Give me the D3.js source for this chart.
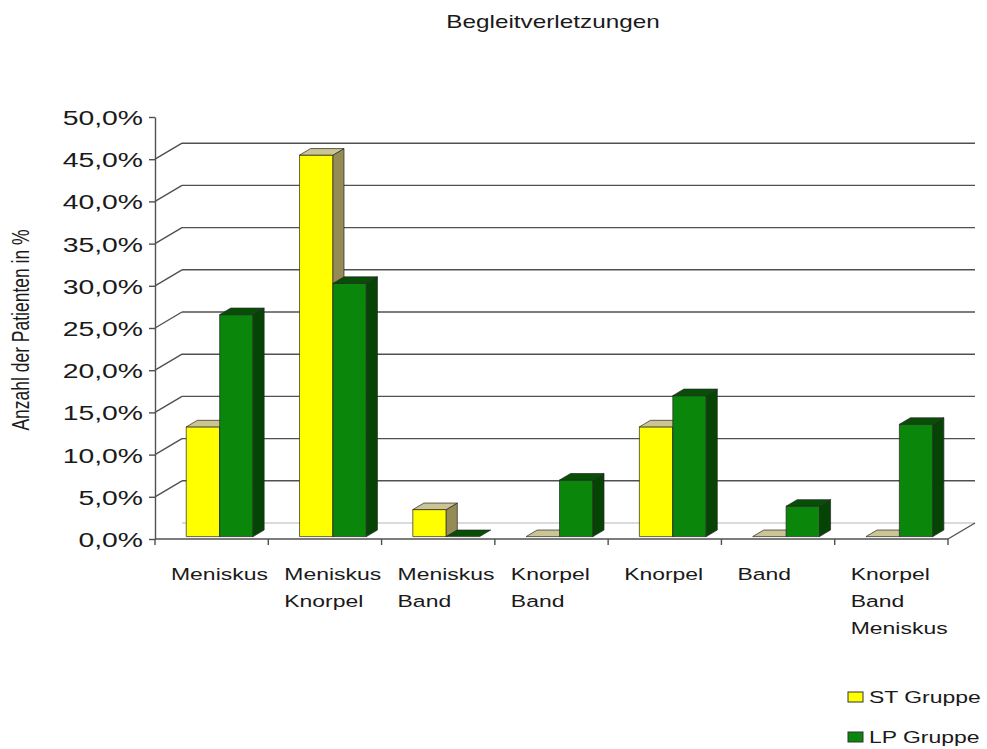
<!DOCTYPE html>
<html>
<head>
<meta charset="utf-8">
<script src="https://cdn.jsdelivr.net/npm/d3@7"></script>
<style>
  html, body { margin: 0; padding: 0; background: #fff; }
  #chart { width: 987px; height: 749px; }
</style>
</head>
<body>
<div id="chart"></div>
<script>
const categories = [
  ["Meniskus"],
  ["Meniskus", "Knorpel"],
  ["Meniskus", "Band"],
  ["Knorpel", "Band"],
  ["Knorpel"],
  ["Band"],
  ["Knorpel", "Band", "Meniskus"]
];
const seriesNames = ["ST Gruppe", "LP Gruppe"];
const stValues = [13.0, 45.2, 3.2, 0, 13.0, 0, 0];
const lpValues = [26.3, 30.0, 0, 6.7, 16.7, 3.6, 13.3];
const yTicks = [0, 5, 10, 15, 20, 25, 30, 35, 40, 45, 50];
const titleText = "Begleitverletzungen";
const yTitleText = "Anzahl der Patienten in %";

window.addEventListener("load", () => {
  const width = 987;
  const height = 749;
  const sx = 1.35; // the source picture is stretched horizontally
  const fontFamily = "'Liberation Sans', Arial, sans-serif";
  const textColor = "#1a1a1a";
  const gridColor = "#505050";

  const plot = { left: 155, right: 948, top: 117, bottom: 539 };
  const depthX = 27;
  const depthY = -16;
  const barT0 = 0.15;
  const barT1 = 0.56;

  const colors = {
    "ST Gruppe": { front: "#ffff00", top: "#cbc493", side: "#958b55" },
    "LP Gruppe": { front: "#0a860a", top: "#074f07", side: "#054405" }
  };

  const svg = d3
    .select("#chart")
    .append("svg")
    .attr("width", width)
    .attr("height", height)
    .style("font-family", fontFamily);

  const yScale = d3.scaleLinear().domain([0, 50]).range([plot.bottom, plot.top]);
  const xBand = d3
    .scaleBand()
    .domain(d3.range(categories.length))
    .range([plot.left, plot.right]);
  const bw = xBand.bandwidth();
  const xInner = d3
    .scaleBand()
    .domain(seriesNames)
    .range([bw * 0.24, bw * 0.83]);

  const de = d3.formatLocale({
    decimal: ",",
    thousands: ".",
    grouping: [3],
    currency: ["", " €"]
  });
  const pct = de.format(".1f");

  function stretchedText(parent, x, y, str, size, anchor) {
    return parent
      .append("text")
      .attr("transform", `translate(${x},${y}) scale(${sx},1)`)
      .attr("text-anchor", anchor || "start")
      .attr("font-size", size + "px")
      .attr("fill", textColor)
      .text(str);
  }

  // title
  stretchedText(svg, 553, 28, titleText, 18, "middle");

  // y axis title
  svg
    .append("text")
    .attr("transform", `translate(29,330) rotate(-90) scale(1,${sx})`)
    .attr("text-anchor", "middle")
    .attr("font-size", "17.5px")
    .attr("fill", textColor)
    .text(yTitleText);

  // walls: back gridlines and left side diagonals
  const grid = svg.append("g");
  yTicks
    .filter((t) => t > 0 && t < 50)
    .forEach((t) => {
      const y = yScale(t);
      grid
        .append("line")
        .attr("x1", plot.left)
        .attr("y1", y)
        .attr("x2", plot.left + depthX)
        .attr("y2", y + depthY)
        .attr("stroke", gridColor)
        .attr("stroke-width", 1.4);
      grid
        .append("line")
        .attr("x1", plot.left + depthX)
        .attr("y1", y + depthY)
        .attr("x2", plot.right + depthX)
        .attr("y2", y + depthY)
        .attr("stroke", gridColor)
        .attr("stroke-width", 1.4);
    });

  // floor back edge (faint) and right floor edge
  grid
    .append("line")
    .attr("x1", plot.left + depthX)
    .attr("y1", yScale(0) + depthY)
    .attr("x2", plot.right + depthX)
    .attr("y2", yScale(0) + depthY)
    .attr("stroke", "#b5b5b5")
    .attr("stroke-width", 1);
  grid
    .append("line")
    .attr("x1", plot.right)
    .attr("y1", yScale(0))
    .attr("x2", plot.right + depthX)
    .attr("y2", yScale(0) + depthY)
    .attr("stroke", gridColor)
    .attr("stroke-width", 1.4);

  // bars
  const seriesData = [
    { name: "ST Gruppe", values: stValues },
    { name: "LP Gruppe", values: lpValues }
  ];
  const ox = depthX * barT0;
  const oy = depthY * barT0;
  const dx = depthX * (barT1 - barT0);
  const dy = depthY * (barT1 - barT0);
  const bars = svg.append("g").attr("stroke", "#262626").attr("stroke-width", 0.7).attr("stroke-linejoin", "round");

  categories.forEach((cat, i) => {
    seriesData.forEach((s) => {
      const v = s.values[i];
      const c = colors[s.name];
      const x0 = xBand(i) + xInner(s.name) + ox;
      const w = xInner.bandwidth();
      const yTop = yScale(v) + oy;
      const yBot = yScale(0) + oy;
      if (v > 0) {
        bars
          .append("rect")
          .attr("x", x0)
          .attr("y", yTop)
          .attr("width", w)
          .attr("height", yBot - yTop)
          .attr("fill", c.front);
        bars
          .append("polygon")
          .attr("points", [
            [x0 + w, yTop],
            [x0 + w, yBot],
            [x0 + w + dx, yBot + dy],
            [x0 + w + dx, yTop + dy]
          ].join(" "))
          .attr("fill", c.side);
      }
      bars
        .append("polygon")
        .attr("points", [
          [x0, yTop],
          [x0 + w, yTop],
          [x0 + w + dx, yTop + dy],
          [x0 + dx, yTop + dy]
        ].join(" "))
        .attr("fill", c.top);
    });
  });

  // y axis
  const yAxis = d3
    .axisLeft(yScale)
    .tickValues(yTicks)
    .tickSize(6)
    .tickSizeOuter(0)
    .tickFormat((d) => pct(d) + "%");
  const yAxisG = svg
    .append("g")
    .attr("transform", `translate(${plot.left},0)`)
    .call(yAxis);
  yAxisG.select(".domain").attr("stroke", gridColor).attr("stroke-width", 1.4);
  yAxisG.selectAll(".tick line").attr("stroke", gridColor).attr("stroke-width", 1.4);
  yAxisG
    .selectAll(".tick text")
    .attr("x", -12 / sx)
    .attr("dy", "0.36em")
    .attr("transform", `scale(${sx},1)`)
    .attr("font-size", "21px")
    .attr("font-family", fontFamily)
    .attr("fill", textColor);

  // x baseline and category ticks
  svg
    .append("line")
    .attr("x1", plot.left)
    .attr("y1", yScale(0))
    .attr("x2", plot.right)
    .attr("y2", yScale(0))
    .attr("stroke", gridColor)
    .attr("stroke-width", 1.6);
  const tickXs = d3.range(categories.length).map((i) => xBand(i)).concat([plot.right]);
  tickXs.forEach((x) => {
    svg
      .append("line")
      .attr("x1", x)
      .attr("y1", yScale(0))
      .attr("x2", x)
      .attr("y2", yScale(0) + 6)
      .attr("stroke", gridColor)
      .attr("stroke-width", 1.4);
  });

  // category labels
  categories.forEach((lines, i) => {
    lines.forEach((line, j) => {
      stretchedText(svg, xBand(i) + 16, 580 + j * 27, line, 17, "start");
    });
  });

  // legend
  const legend = svg.append("g");
  seriesNames.forEach((name, i) => {
    const y = 692 + i * 40;
    legend
      .append("rect")
      .attr("x", 848)
      .attr("y", y)
      .attr("width", 15)
      .attr("height", 10)
      .attr("fill", colors[name].front)
      .attr("stroke", "#333")
      .attr("stroke-width", 1);
    stretchedText(legend, 869, y + 11, name, 17, "start");
  });
});
</script>
</body>
</html>
